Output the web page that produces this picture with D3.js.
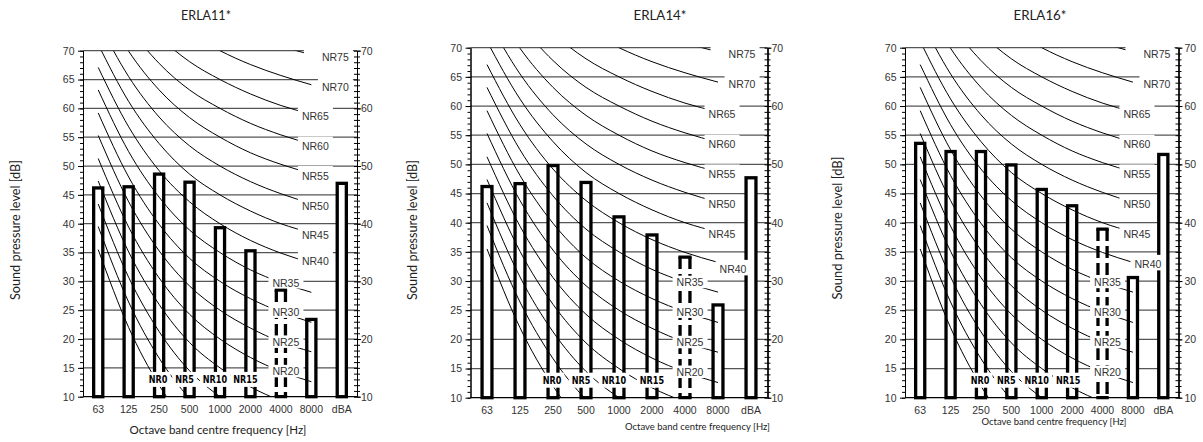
<!DOCTYPE html>
<html><head><meta charset="utf-8">
<script src="https://cdn.jsdelivr.net/npm/d3@7"></script>
<style>
body{margin:0;background:#fff;}
svg{display:block;}
</style></head><body>
<svg id="chart" width="1203" height="442"></svg>
<script>
// ---------- data ----------
const categories = ["63","125","250","500","1000","2000","4000","8000","dBA"];
const nrBands = ["63","125","250","500","1000","2000","4000","8000"];
const titles = ["ERLA11*","ERLA14*","ERLA16*"];
const erla11 = [46.2, 46.4, 48.6, 47.2, 39.3, 35.3, 28.5, 23.4, 47.0];
const erla14 = [46.2, 46.7, 49.8, 46.9, 41.0, 37.9, 34.1, 25.9, 47.7];
const erla16 = [53.6, 52.2, 52.2, 49.9, 45.7, 42.9, 38.9, 30.6, 51.7];
const yTicksLeft = [10,15,20,25,30,35,40,45,50,55,60,65,70];
const yTicksRight = [10,20,30,40,50,60,70];
const nrLevels = [0,5,10,15,20,25,30,35,40,45,50,55,60,65,70,75];
// NR curve levels (dB) at 63..8000 Hz
const nrCurves = [
  [35.5, 22.0, 12.0,  4.8,  0.0, -3.5, -6.1, -8.0],
  [39.5, 26.4, 16.7,  9.7,  5.0,  1.6, -1.0, -2.9],
  [43.4, 30.7, 21.3, 14.5, 10.0,  6.7,  4.2,  2.3],
  [47.4, 35.1, 26.0, 19.4, 15.0, 11.7,  9.3,  7.5],
  [51.3, 39.4, 30.6, 24.3, 20.0, 16.8, 14.4, 12.6],
  [55.3, 43.8, 35.3, 29.2, 25.0, 21.9, 19.5, 17.8],
  [59.2, 48.1, 39.9, 34.0, 30.0, 27.0, 24.7, 22.9],
  [63.2, 52.5, 44.6, 38.9, 35.0, 32.0, 29.8, 28.1],
  [67.1, 56.8, 49.2, 43.8, 40.0, 37.1, 34.9, 33.2],
  [71.1, 61.2, 53.9, 48.6, 45.0, 42.2, 40.0, 38.4],
  [75.0, 65.5, 58.5, 53.5, 50.0, 47.3, 45.2, 43.5],
  [79.0, 69.9, 63.2, 58.4, 55.0, 52.3, 50.3, 48.7],
  [82.9, 74.2, 67.8, 63.2, 60.0, 57.4, 55.4, 53.8],
  [86.9, 78.6, 72.5, 68.1, 65.0, 62.5, 60.5, 59.0],
  [90.8, 82.9, 77.1, 73.0, 70.0, 67.6, 65.7, 64.1],
  [94.8, 87.3, 81.8, 77.9, 75.0, 72.6, 70.8, 69.3]
];
const lowLabelBands = ["250","500","1000","2000"]; // NR0, NR5, NR10, NR15
const lowLabelLevel = 13;
const dashedCategory = "4000";
const yAxisTitle = "Sound pressure level [dB]";
const xAxisTitle = "Octave band centre frequency [Hz]";
const seriesList = [erla11, erla14, erla16];

// ---------- layout ----------
const layouts = [
  {left:83, right:357, top:50.7, bottom:396.7, titleX:206, titleW:50, yTitleX:15, yTitleY:230, yTitleW:140,
   xt:{x:218, y:434, anchor:"middle", w:177}, rightPad:0, nr40Dx:4, nr40Dy:-4, nr15Dx:-5},
  {left:470.5, right:767.5, top:47.7, bottom:397.7, titleX:660, titleW:53, yTitleX:412, yTitleY:230, yTitleW:140,
   xt:{x:770, y:430, anchor:"end", w:145}, rightPad:0, nr40Dx:15, nr40Dy:5, nr15Dx:0},
  {left:905, right:1178.5, top:47.7, bottom:397.7, titleX:1040, titleW:53, yTitleX:837, yTitleY:228, yTitleW:143,
   xt:{x:1054, y:425, anchor:"middle", w:145}, rightPad:2, nr40Dx:15, nr40Dy:0, nr15Dx:-4}
];

const svg = d3.select("#chart");
const sans = "'Liberation Sans', Arial, sans-serif";
const titleFont = "Lato, 'Open Sans', sans-serif";

function fitText(sel, targetW){
  const base = 12;
  sel.style("font-size", base + "px");
  const w = sel.node().getComputedTextLength();
  sel.style("font-size", (base * targetW / w).toFixed(2) + "px");
}

function drawPanel(p, values, title, idx){
  const g = svg.append("g");
  const x = d3.scaleBand().domain(categories).range([p.left, p.right]);
  const cx = c => x(c) + x.bandwidth()/2;
  const y = d3.scaleLinear().domain([10,70]).range([p.bottom, p.top]);

  const clipId = "clip" + idx;
  svg.append("clipPath").attr("id", clipId).append("rect")
    .attr("x", p.left).attr("y", p.top).attr("width", p.right-p.left).attr("height", p.bottom-p.top);

  // grid
  g.append("g").selectAll("line").data(yTicksLeft).join("line")
    .attr("x1", p.left).attr("x2", p.right)
    .attr("y1", d => y(d)).attr("y2", d => y(d))
    .attr("stroke", d => (d===10) ? "#000" : "#555").attr("stroke-width", 1.2);

  // bars
  const bw = x.bandwidth()*0.3;
  const bars = g.append("g");
  categories.forEach((c,i) => {
    const v = values[i];
    const x0 = cx(c)-bw/2, x1 = cx(c)+bw/2, y0 = y(v), y1 = y(10);
    if (c === dashedCategory){
      bars.append("rect").attr("x", x0).attr("y", y0).attr("width", bw).attr("height", y1-y0)
        .attr("fill", "#fff").attr("stroke", "none");
      bars.append("path").attr("d", `M${x0},${y0}H${x1}M${x0},${y1}H${x1}`)
        .attr("stroke", "#000").attr("stroke-width", 3.3).attr("fill","none").attr("stroke-linecap","square");
      bars.append("path").attr("d", `M${x0},${y0}V${y1}M${x1},${y0}V${y1}`)
        .attr("stroke", "#000").attr("stroke-width", 3.3).attr("fill","none")
        .attr("stroke-dasharray", "12,5");
    } else {
      bars.append("rect").attr("x", x0).attr("y", y0).attr("width", bw).attr("height", y1-y0)
        .attr("fill", "#fff").attr("stroke", "#000").attr("stroke-width", 3.3);
    }
  });

  // NR curves
  const line = d3.line().x((d,i) => cx(nrBands[i])).y(d => y(d)).curve(d3.curveMonotoneX);
  g.append("g").attr("clip-path", `url(#${clipId})`)
    .selectAll("path").data(nrCurves).join("path")
    .attr("d", line).attr("fill","none").attr("stroke","#000").attr("stroke-width",1);

  // NR labels
  const labels = g.append("g");
  function addLabel(txt, lx, ly, kind, extraLeft){
    const bold = kind === "low";
    const lg = labels.append("g");
    const t = lg.append("text").attr("x", lx).attr("y", ly)
      .attr("text-anchor","middle").attr("dominant-baseline","central")
      .style("font-family", bold ? "'DejaVu Sans Condensed', 'Liberation Sans Narrow', sans-serif" : sans)
      .style("font-weight", bold ? "bold" : "normal")
      .style("font-size", bold ? "11px" : "10.5px")
      .attr("fill", bold ? "#000" : "#333").text(txt);
    if (bold){
      const w0 = t.node().getComputedTextLength();
      t.attr("textLength", w0*0.82).attr("lengthAdjust","spacingAndGlyphs");
    }
    const bb = t.node().getBBox();
    const padX = bold ? 3 : 4;
    const hTop = bold ? 7.5 : (kind === "mid" ? 6.5 : 9.5);
    const hBot = bold ? 7.5 : 6;
    lg.insert("rect","text").attr("x", bb.x - padX - (extraLeft||0)).attr("y", ly - hTop)
      .attr("width", bb.width + 2*padX + (extraLeft||0)).attr("height", hTop + hBot).attr("fill","#fff");
  }
  nrLevels.forEach((n,i) => {
    const vals = nrCurves[i];
    if (n <= 15){
      const band = lowLabelBands[i];
      const dx = n === 0 ? -1 : (n === 15 ? p.nr15Dx : -5);
      addLabel("NR" + n, cx(band) + dx, y(lowLabelLevel), "low");
    } else if (n <= 35){
      addLabel("NR" + n, cx("4000") + 5, y(vals[6]), "mid");
    } else {
      let dx = 4, dy = 2;
      if (n === 40){ dx = p.nr40Dx; dy += p.nr40Dy; }
      if (n >= 70) dx = 24;
      addLabel("NR" + n, cx("8000") + dx, y(vals[7]) + dy, "high", n === 75 ? 14 : 0);
    }
  });

  // axes
  const styleAxis = sel => {
    sel.select(".domain").attr("stroke","#000").attr("stroke-width",1);
    sel.selectAll(".tick line").attr("stroke","#000").attr("stroke-width",1);
    sel.selectAll("text").style("font-family", sans).style("font-size","10.5px").attr("fill","#333");
  };
  const minor = d3.range(10,71,1);
  g.append("g").attr("transform",`translate(${p.left},0)`)
    .call(d3.axisLeft(y).tickValues(minor).tickSize(3).tickSizeOuter(0).tickFormat("")).call(styleAxis);
  g.append("g").attr("transform",`translate(${p.left},0)`)
    .call(d3.axisLeft(y).tickValues(yTicksLeft).tickSize(5).tickSizeOuter(0).tickPadding(3.5)).call(styleAxis);
  g.append("g").attr("transform",`translate(${p.right},0)`)
    .call(d3.axisRight(y).tickValues(minor).tickSize(3).tickSizeOuter(0).tickFormat("")).call(styleAxis);
  g.append("g").attr("transform",`translate(${p.right},0)`)
    .call(d3.axisLeft(y).tickValues(minor).tickSize(3).tickSizeOuter(0).tickFormat("")).call(styleAxis);
  g.append("g").attr("transform",`translate(${p.right},0)`)
    .call(d3.axisRight(y).tickValues(yTicksRight).tickSize(4).tickSizeOuter(0).tickPadding(p.rightPad)).call(styleAxis);

  const xa = g.append("g").attr("transform",`translate(0,${p.bottom})`)
    .call(d3.axisBottom(x).tickSize(0).tickPadding(8.5));
  xa.select(".domain").remove();
  xa.selectAll("text").style("font-family", sans).style("font-size","10.5px").attr("fill","#333");

  // titles
  g.append("text").attr("x", p.titleX).attr("y", 20).attr("text-anchor","middle")
    .style("font-family", titleFont).attr("fill","#222").text(title).call(fitText, p.titleW);
  g.append("text").attr("transform",`translate(${p.yTitleX},${p.yTitleY}) rotate(-90)`)
    .attr("text-anchor","middle").attr("dominant-baseline","central")
    .style("font-family", titleFont).attr("fill","#222").text(yAxisTitle).call(fitText, p.yTitleW);
  g.append("text").attr("x", p.xt.x).attr("y", p.xt.y).attr("text-anchor", p.xt.anchor)
    .style("font-family", titleFont).attr("fill","#222").text(xAxisTitle).call(fitText, p.xt.w);
}

layouts.forEach((p,i) => drawPanel(p, seriesList[i], titles[i], i));
</script>
</body></html>
